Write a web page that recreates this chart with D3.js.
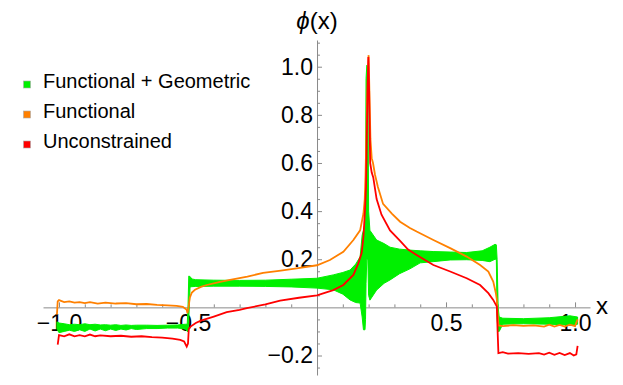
<!DOCTYPE html>
<html>
<head>
<meta charset="utf-8">
<script src="https://cdn.jsdelivr.net/npm/d3@7"></script>
<style>
  body { margin: 0; background: #fff; }
  svg { font-family: "Liberation Sans", Arial, sans-serif; }
</style>
</head>
<body>
<svg id="chart"></svg>
<script>
// Unconstrained (red)
const redX = [-1.005, -1.0, -0.98, -0.96, -0.94, -0.92, -0.9, -0.88, -0.86, -0.84, -0.8, -0.76, -0.72, -0.68, -0.64, -0.6, -0.56, -0.53, -0.515, -0.505, -0.5, -0.497, -0.49, -0.47, -0.45, -0.4, -0.35, -0.3, -0.272, -0.2, -0.143, -0.07, 0, 0.063, 0.102, 0.141, 0.16, 0.173, 0.18, 0.186, 0.19, 0.193, 0.196, 0.199, 0.202, 0.206, 0.212, 0.218, 0.231, 0.25, 0.283, 0.322, 0.353, 0.386, 0.451, 0.516, 0.58, 0.632, 0.664, 0.683, 0.697, 0.7, 0.703, 0.72, 0.74, 0.78, 0.82, 0.86, 0.88, 0.9, 0.92, 0.94, 0.96, 0.98, 0.995, 1.005, 1.01];
const redY = [-0.155, -0.115, -0.12, -0.112, -0.12, -0.115, -0.12, -0.113, -0.12, -0.116, -0.12, -0.118, -0.122, -0.12, -0.124, -0.126, -0.13, -0.135, -0.142, -0.163, -0.15, -0.09, -0.08, -0.065, -0.055, -0.038, -0.02, -0.01, -0.003, 0.012, 0.028, 0.04, 0.05, 0.072, 0.093, 0.135, 0.183, 0.226, 0.293, 0.405, 0.5, 0.7, 0.9, 1.04, 0.9, 0.6, 0.56, 0.54, 0.45, 0.385, 0.32, 0.276, 0.24, 0.218, 0.176, 0.149, 0.121, 0.093, 0.059, 0.031, 0.003, -0.1, -0.19, -0.186, -0.192, -0.19, -0.193, -0.19, -0.196, -0.188, -0.197, -0.189, -0.198, -0.19, -0.2, -0.195, -0.16];

// Functional (orange)
const orangeX = [-1.008, -1.005, -1.0, -0.98, -0.96, -0.94, -0.92, -0.9, -0.88, -0.85, -0.82, -0.78, -0.74, -0.7, -0.66, -0.62, -0.58, -0.544, -0.52, -0.505, -0.502, -0.498, -0.493, -0.485, -0.473, -0.45, -0.427, -0.38, -0.337, -0.27, -0.209, -0.14, -0.079, 0, 0.05, 0.102, 0.141, 0.167, 0.18, 0.185, 0.188, 0.191, 0.194, 0.198, 0.2, 0.203, 0.207, 0.212, 0.217, 0.225, 0.236, 0.256, 0.29, 0.322, 0.36, 0.386, 0.451, 0.516, 0.58, 0.632, 0.664, 0.683, 0.693, 0.697, 0.7, 0.703, 0.72, 0.76, 0.8, 0.84, 0.88, 0.9, 0.92, 0.94, 0.96, 0.98, 1.0, 1.01];
const orangeY = [-0.03, 0.025, 0.03, 0.022, 0.025, 0.02, 0.022, 0.018, 0.022, 0.016, 0.02, 0.016, 0.018, 0.013, 0.014, 0.01, 0.008, 0.006, 0.002, -0.01, -0.025, 0.0, 0.04, 0.062, 0.073, 0.085, 0.093, 0.105, 0.114, 0.128, 0.143, 0.153, 0.162, 0.175, 0.197, 0.231, 0.28, 0.32, 0.39, 0.45, 0.55, 0.7, 0.85, 1.0, 1.048, 0.9, 0.7, 0.62, 0.6, 0.55, 0.5, 0.43, 0.39, 0.356, 0.33, 0.315, 0.28, 0.246, 0.211, 0.176, 0.149, 0.107, 0.06, 0.031, -0.03, -0.075, -0.078, -0.074, -0.077, -0.075, -0.08, -0.072, -0.08, -0.073, -0.08, -0.072, -0.078, -0.05];

// Functional + Geometric (green), drawn as a band: lower and upper edge
const greenX = [-1.008, -1.0, -0.98, -0.96, -0.94, -0.92, -0.9, -0.88, -0.86, -0.84, -0.82, -0.8, -0.78, -0.76, -0.74, -0.72, -0.7, -0.66, -0.62, -0.58, -0.54, -0.51, -0.503, -0.5, -0.497, -0.492, -0.485, -0.47, -0.4, -0.3, -0.2, -0.1, 0, 0.063, 0.1, 0.128, 0.15, 0.167, 0.175, 0.18, 0.186, 0.188, 0.19, 0.193, 0.197, 0.2, 0.205, 0.231, 0.26, 0.283, 0.32, 0.36, 0.4, 0.45, 0.516, 0.58, 0.64, 0.67, 0.69, 0.695, 0.698, 0.702, 0.706, 0.72, 0.8, 0.9, 0.95, 0.98, 1.01];
const greenLo = [-0.09, -0.105, -0.1, -0.095, -0.1, -0.093, -0.1, -0.09, -0.098, -0.09, -0.097, -0.09, -0.096, -0.09, -0.094, -0.088, -0.092, -0.088, -0.088, -0.086, -0.086, -0.09, -0.1, -0.1, -0.05, 0.085, 0.086, 0.087, 0.088, 0.088, 0.087, 0.085, 0.08, 0.073, 0.055, 0.031, 0.02, 0.018, -0.04, -0.093, -0.093, -0.05, 0.1, 0.2, 0.2, 0.05, 0.03, 0.072, 0.1, 0.114, 0.14, 0.16, 0.185, 0.19, 0.197, 0.198, 0.195, 0.19, 0.2, 0.2, -0.05, -0.1, -0.1, -0.07, -0.068, -0.07, -0.072, -0.075, -0.07];
const greenHi = [-0.06, -0.065, -0.068, -0.072, -0.07, -0.072, -0.068, -0.072, -0.07, -0.073, -0.072, -0.074, -0.072, -0.075, -0.073, -0.075, -0.074, -0.074, -0.075, -0.074, -0.073, -0.07, -0.07, 0.0, 0.13, 0.128, 0.118, 0.115, 0.113, 0.112, 0.113, 0.117, 0.121, 0.135, 0.145, 0.155, 0.18, 0.21, 0.3, 0.32, 0.35, 0.5, 0.95, 1.006, 1.0, 0.4, 0.32, 0.28, 0.265, 0.25, 0.242, 0.238, 0.235, 0.232, 0.23, 0.228, 0.235, 0.25, 0.262, 0.26, 0.2, 0.0, -0.04, -0.045, -0.047, -0.043, -0.038, -0.035, -0.04];

const xMajor = [-1.0, -0.5, 0.5, 1.0];
const xMinor = [-0.9, -0.8, -0.7, -0.6, -0.4, -0.3, -0.2, -0.1, 0.1, 0.2, 0.3, 0.4, 0.6, 0.7, 0.8, 0.9];
const yMajor = [-0.2, 0.2, 0.4, 0.6, 0.8, 1.0];
const yMinor = [-0.25, -0.15, -0.1, -0.05, 0.05, 0.1, 0.15, 0.25, 0.3, 0.35, 0.45, 0.5, 0.55, 0.65, 0.7, 0.75, 0.85, 0.9, 0.95, 1.05, 1.1];

const legendNames = ["Functional + Geometric", "Functional", "Unconstrained"];
const legendColors = ["#00f000", "#ff8000", "#ff0000"];

const width = 623, height = 385;

const svg = d3.select("#chart").attr("width", width).attr("height", height);

const x = d3.scaleLinear().domain([-1.062, 1.058]).range([43, 590]);
const y = d3.scaleLinear().domain([-0.281, 1.111]).range([375, 40]);

const fmt = d3.format(".1f");
const axisColor = "#8a8a8a";

// x axis
const gx = svg.append("g").attr("transform", `translate(0,${y(0)})`);
gx.call(d3.axisBottom(x).tickValues(xMajor).tickSize(-5).tickSizeOuter(0).tickPadding(7).tickFormat(fmt));
gx.append("g").call(d3.axisBottom(x).tickValues(xMinor).tickSize(-3).tickSizeOuter(0).tickFormat(""))
  .select(".domain").remove();

// y axis
const gy = svg.append("g").attr("transform", `translate(${x(0)},0)`);
gy.call(d3.axisLeft(y).tickValues(yMajor).tickSize(-5).tickSizeOuter(0).tickPadding(4).tickFormat(fmt));
gy.append("g").call(d3.axisLeft(y).tickValues(yMinor).tickSize(-3).tickSizeOuter(0).tickFormat(""))
  .select(".domain").remove();

svg.selectAll(".domain, .tick line").attr("stroke", axisColor).attr("stroke-width", 1);
svg.selectAll(".tick text").attr("fill", "#000").style("font-size", "23px")
   .style("font-family", "'Liberation Sans', Arial, sans-serif");

// axis labels
svg.append("text").attr("x", 317).attr("y", 29).attr("text-anchor", "middle")
   .style("font-size", "24px")
   .html('<tspan font-style="italic">ϕ</tspan>(x)');
svg.append("text").attr("x", 602).attr("y", 314).attr("text-anchor", "middle")
   .style("font-size", "24px").text("x");

// green band
const greenData = greenX.map((d, i) => ({ x: d, lo: greenLo[i], hi: greenHi[i] }));
svg.append("path")
   .datum(greenData)
   .attr("fill", legendColors[0])
   .attr("stroke", legendColors[0])
   .attr("stroke-width", 1)
   .attr("d", d3.area().x(d => x(d.x)).y0(d => y(d.lo)).y1(d => y(d.hi)));

const line = d3.line().x(d => x(d[0])).y(d => y(d[1]));

svg.append("path")
   .datum(orangeX.map((d, i) => [d, orangeY[i]]))
   .attr("fill", "none")
   .attr("stroke", legendColors[1])
   .attr("stroke-width", 1.8)
   .attr("d", line);

svg.append("path")
   .datum(redX.map((d, i) => [d, redY[i]]))
   .attr("fill", "none")
   .attr("stroke", legendColors[2])
   .attr("stroke-width", 1.8)
   .attr("d", line);

// legend
const legend = svg.selectAll(".legend-item")
   .data(legendNames)
   .enter()
   .append("g")
   .attr("class", "legend-item")
   .attr("transform", (d, i) => `translate(0,${84.5 + i * 30})`);

legend.append("rect")
   .attr("x", 23.5).attr("y", -3.5).attr("width", 7).attr("height", 7)
   .attr("fill", (d, i) => legendColors[i])
   .attr("stroke", "#aaa")
   .attr("stroke-width", 0.6);

legend.append("text")
   .attr("x", 43).attr("y", 3)
   .style("font-size", "20px")
   .text(d => d);
</script>
</body>
</html>
